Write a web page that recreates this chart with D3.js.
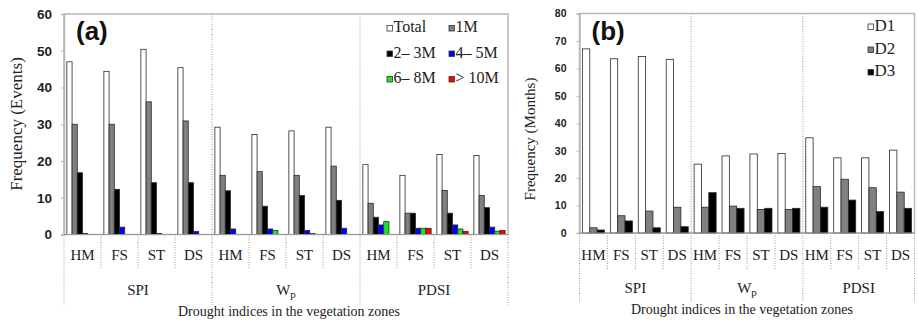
<!DOCTYPE html>
<html>
<head>
<meta charset="utf-8">
<script src="https://cdn.jsdelivr.net/npm/d3@7/dist/d3.min.js"></script>
<style>
  html, body { margin: 0; padding: 0; background: #fff; }
  svg { display: block; }
</style>
</head>
<body>
<svg id="chart" width="918" height="324"></svg>
<script>
// ---------- DATA ----------
const zones = ["HM", "FS", "ST", "DS"];
const indices = ["SPI", "Wp", "PDSI"];

// Panel (a): events (order: SPI HM..DS, Wp HM..DS, PDSI HM..DS)
const seriesA = ["Total", "1M", "2– 3M", "4– 5M", "6– 8M", "> 10M"];
const totalA = [47.0, 44.4, 50.4, 45.4, 29.2, 27.2, 28.2, 29.2, 19.0, 16.1, 21.8, 21.5];
const m1A    = [30.0, 30.0, 36.1, 30.9, 16.1, 17.1, 16.1, 18.6, 8.5, 5.8, 12.0, 10.6];
const m23A   = [16.8, 12.3, 14.1, 14.1, 11.9, 7.7, 10.6, 9.3, 4.7, 5.8, 5.8, 7.3];
const m45A   = [0.3, 2.0, 0.3, 0.8, 1.5, 1.5, 1.1, 1.7, 2.6, 1.7, 2.6, 2.0];
const m68A   = [0, 0, 0, 0, 0, 1.1, 0.3, 0, 3.5, 1.7, 1.5, 0.9];
const m10A   = [0, 0, 0, 0, 0, 0, 0, 0, 0, 1.7, 0.8, 1.1];
const ticksA = [0, 10, 20, 30, 40, 50, 60];

// Panel (b): months
const seriesB = ["D1", "D2", "D3"];
const d1B = [67.1, 63.5, 64.3, 63.3, 25.1, 28.1, 28.8, 29.0, 34.7, 27.4, 27.4, 30.2];
const d2B = [1.9, 6.3, 8.0, 9.4, 9.4, 9.8, 8.6, 8.6, 16.9, 19.6, 16.5, 14.9];
const d3B = [1.1, 4.4, 1.9, 2.3, 14.7, 9.0, 9.0, 9.0, 9.4, 12.0, 7.8, 9.0];
const ticksB = [0, 10, 20, 30, 40, 50, 60, 70, 80];

const xTitle = "Drought indices in the vegetation zones";

// ---------- DRAW ----------
const svg = d3.select("#chart");
const serif = "'Liberation Serif', 'Times New Roman', serif";
const sans = "'Liberation Sans', Arial, sans-serif";

const cats = [];
indices.forEach(g => zones.forEach(z => cats.push(g + "|" + z)));

function panel(cfg) {
  const g = svg.append("g");
  const x = d3.scaleBand().domain(cats).range([cfg.x0, cfg.x1]).padding(0);
  const xs = d3.scaleBand().domain(cfg.series).range([0, x.bandwidth()])
    .paddingInner(0).paddingOuter(cfg.outer);
  const y = d3.scaleLinear().domain([0, cfg.ymax]).range([cfg.y0, cfg.y1]);

  // plot frame
  g.append("rect").attr("x", cfg.x0).attr("y", cfg.y1)
    .attr("width", cfg.x1 - cfg.x0).attr("height", cfg.y0 - cfg.y1)
    .attr("fill", "none").attr("stroke", "#b8b8b8").attr("stroke-width", 1.5);

  // group dividers inside plot (dotted)
  const groupW = x.bandwidth() * zones.length;
  indices.forEach((gname, i) => {
    if (i > 0) {
      const gx = cfg.x0 + i * groupW;
      g.append("line").attr("x1", gx).attr("x2", gx).attr("y1", cfg.y1).attr("y2", cfg.y0)
        .attr("stroke", "#999").attr("stroke-dasharray", "1,1.5");
    }
  });

  // y ticks
  const yAxis = d3.axisLeft(y).tickValues(cfg.ticks).tickSize(3).tickPadding(cfg.tickPad);
  const ya = g.append("g").attr("transform", `translate(${cfg.x0},0)`).call(yAxis);
  ya.select(".domain").attr("stroke", "#b8b8b8").attr("stroke-width", 1.5);
  ya.selectAll(".tick line").attr("stroke", "#b8b8b8");
  ya.selectAll(".tick text").attr("font-family", sans).attr("font-weight", "bold")
    .attr("font-size", cfg.tickFont).attr("fill", "#222");

  // bars
  cfg.series.forEach((s, si) => {
    g.append("g").selectAll("rect").data(cfg.values[si]).join("rect")
      .attr("x", (d, i) => x(cats[i]) + xs(s))
      .attr("width", xs.bandwidth())
      .attr("y", d => y(d))
      .attr("height", d => Math.max(0, y(0) - y(d)))
      .attr("fill", cfg.colors[si])
      .attr("stroke", d => d > 0 ? "#2a2a2a" : "none")
      .attr("stroke-width", 0.8);
  });

  // baseline
  g.append("line").attr("x1", cfg.x0).attr("x2", cfg.x1).attr("y1", cfg.y0).attr("y2", cfg.y0)
    .attr("stroke", "#9a9a9a").attr("stroke-width", 1.2);

  // category separators below axis
  cats.forEach((c, i) => {
    const cx = x(c);
    const isGroup = i % zones.length === 0;
    g.append("line").attr("x1", cx).attr("x2", cx)
      .attr("y1", cfg.y0).attr("y2", isGroup ? cfg.groupLineEnd : cfg.catLineEnd)
      .attr("stroke", "#999").attr("stroke-dasharray", "1,1.5");
  });
  g.append("line").attr("x1", cfg.x1).attr("x2", cfg.x1)
    .attr("y1", cfg.y0).attr("y2", cfg.groupLineEnd)
    .attr("stroke", "#999").attr("stroke-dasharray", "1,1.5");

  // category labels
  g.append("g").selectAll("text").data(cats).join("text")
    .attr("x", c => x(c) + x.bandwidth() / 2)
    .attr("y", cfg.catLabelY)
    .attr("text-anchor", "middle")
    .attr("font-family", serif).attr("font-size", 15).attr("fill", "#222")
    .text(c => c.split("|")[1]);

  // group labels
  indices.forEach((gname, i) => {
    const gx = cfg.x0 + i * groupW + groupW / 2;
    const t = g.append("text").attr("x", gx).attr("y", cfg.groupLabelY)
      .attr("text-anchor", "middle").attr("font-family", serif)
      .attr("font-size", 15).attr("fill", "#222");
    if (gname === "Wp") {
      t.append("tspan").text("W");
      t.append("tspan").attr("dy", 3).attr("font-size", 11).text("p");
    } else {
      t.text(gname);
    }
  });

  // x title
  g.append("text").attr("x", cfg.titleX).attr("y", cfg.titleY)
    .attr("text-anchor", "middle").attr("font-family", serif)
    .attr("font-size", 14).attr("fill", "#222").text(xTitle);

  // y title
  g.append("text")
    .attr("transform", `translate(${cfg.yTitleX},${cfg.yTitleY}) rotate(-90)`)
    .attr("text-anchor", "middle").attr("dominant-baseline", "middle")
    .attr("font-family", serif).attr("font-size", cfg.yTitleFont).attr("fill", "#222")
    .text(cfg.yTitle);

  // panel letter
  g.append("text").attr("x", cfg.x0 + 12).attr("y", 40)
    .attr("font-family", sans).attr("font-weight", "bold").attr("font-size", 26)
    .attr("fill", "#111").text(cfg.letter);

  // legend
  cfg.legend.forEach((item, i) => {
    const lx = cfg.legX[item.col], ly = cfg.legY[item.row];
    g.append("rect").attr("x", lx).attr("y", ly - 3).attr("width", 5.5).attr("height", 5.5)
      .attr("fill", cfg.colors[i]).attr("stroke", "#333").attr("stroke-width", 0.8);
    g.append("text").attr("x", lx + 6.5).attr("y", ly).attr("dominant-baseline", "middle")
      .attr("font-family", serif).attr("font-size", cfg.legFont).attr("fill", "#222")
      .text(cfg.series[i]);
  });
}

panel({
  x0: 64, x1: 508, y0: 234.5, y1: 14, ymax: 60, ticks: ticksA,
  series: seriesA, values: [totalA, m1A, m23A, m45A, m68A, m10A],
  colors: ["#ffffff", "#808080", "#000000", "#0000ff", "#1ee61e", "#ff0000"],
  outer: 0.55, tickFont: 13.5, tickPad: 9,
  catLineEnd: 268, groupLineEnd: 305, catLabelY: 260, groupLabelY: 295,
  titleX: 289, titleY: 316,
  yTitle: "Frequency (Events)", yTitleX: 18, yTitleY: 124, yTitleFont: 17,
  letter: "(a)",
  legend: [{col: 0, row: 0}, {col: 1, row: 0}, {col: 0, row: 1}, {col: 1, row: 1}, {col: 0, row: 2}, {col: 1, row: 2}],
  legX: [387, 449], legY: [28.5, 54, 79.5], legFont: 16
});

panel({
  x0: 579.5, x1: 914.5, y0: 233, y1: 13.5, ymax: 80, ticks: ticksB,
  series: seriesB, values: [d1B, d2B, d3B],
  colors: ["#ffffff", "#808080", "#000000"],
  outer: 0.4, tickFont: 10.5, tickPad: 10,
  catLineEnd: 270, groupLineEnd: 303, catLabelY: 260, groupLabelY: 293,
  titleX: 742, titleY: 314,
  yTitle: "Frequency (Months)", yTitleX: 532, yTitleY: 139, yTitleFont: 15,
  letter: "(b)",
  legend: [{col: 0, row: 0}, {col: 0, row: 1}, {col: 0, row: 2}],
  legX: [868], legY: [27, 50, 72.5], legFont: 17
});
</script>
</body>
</html>
